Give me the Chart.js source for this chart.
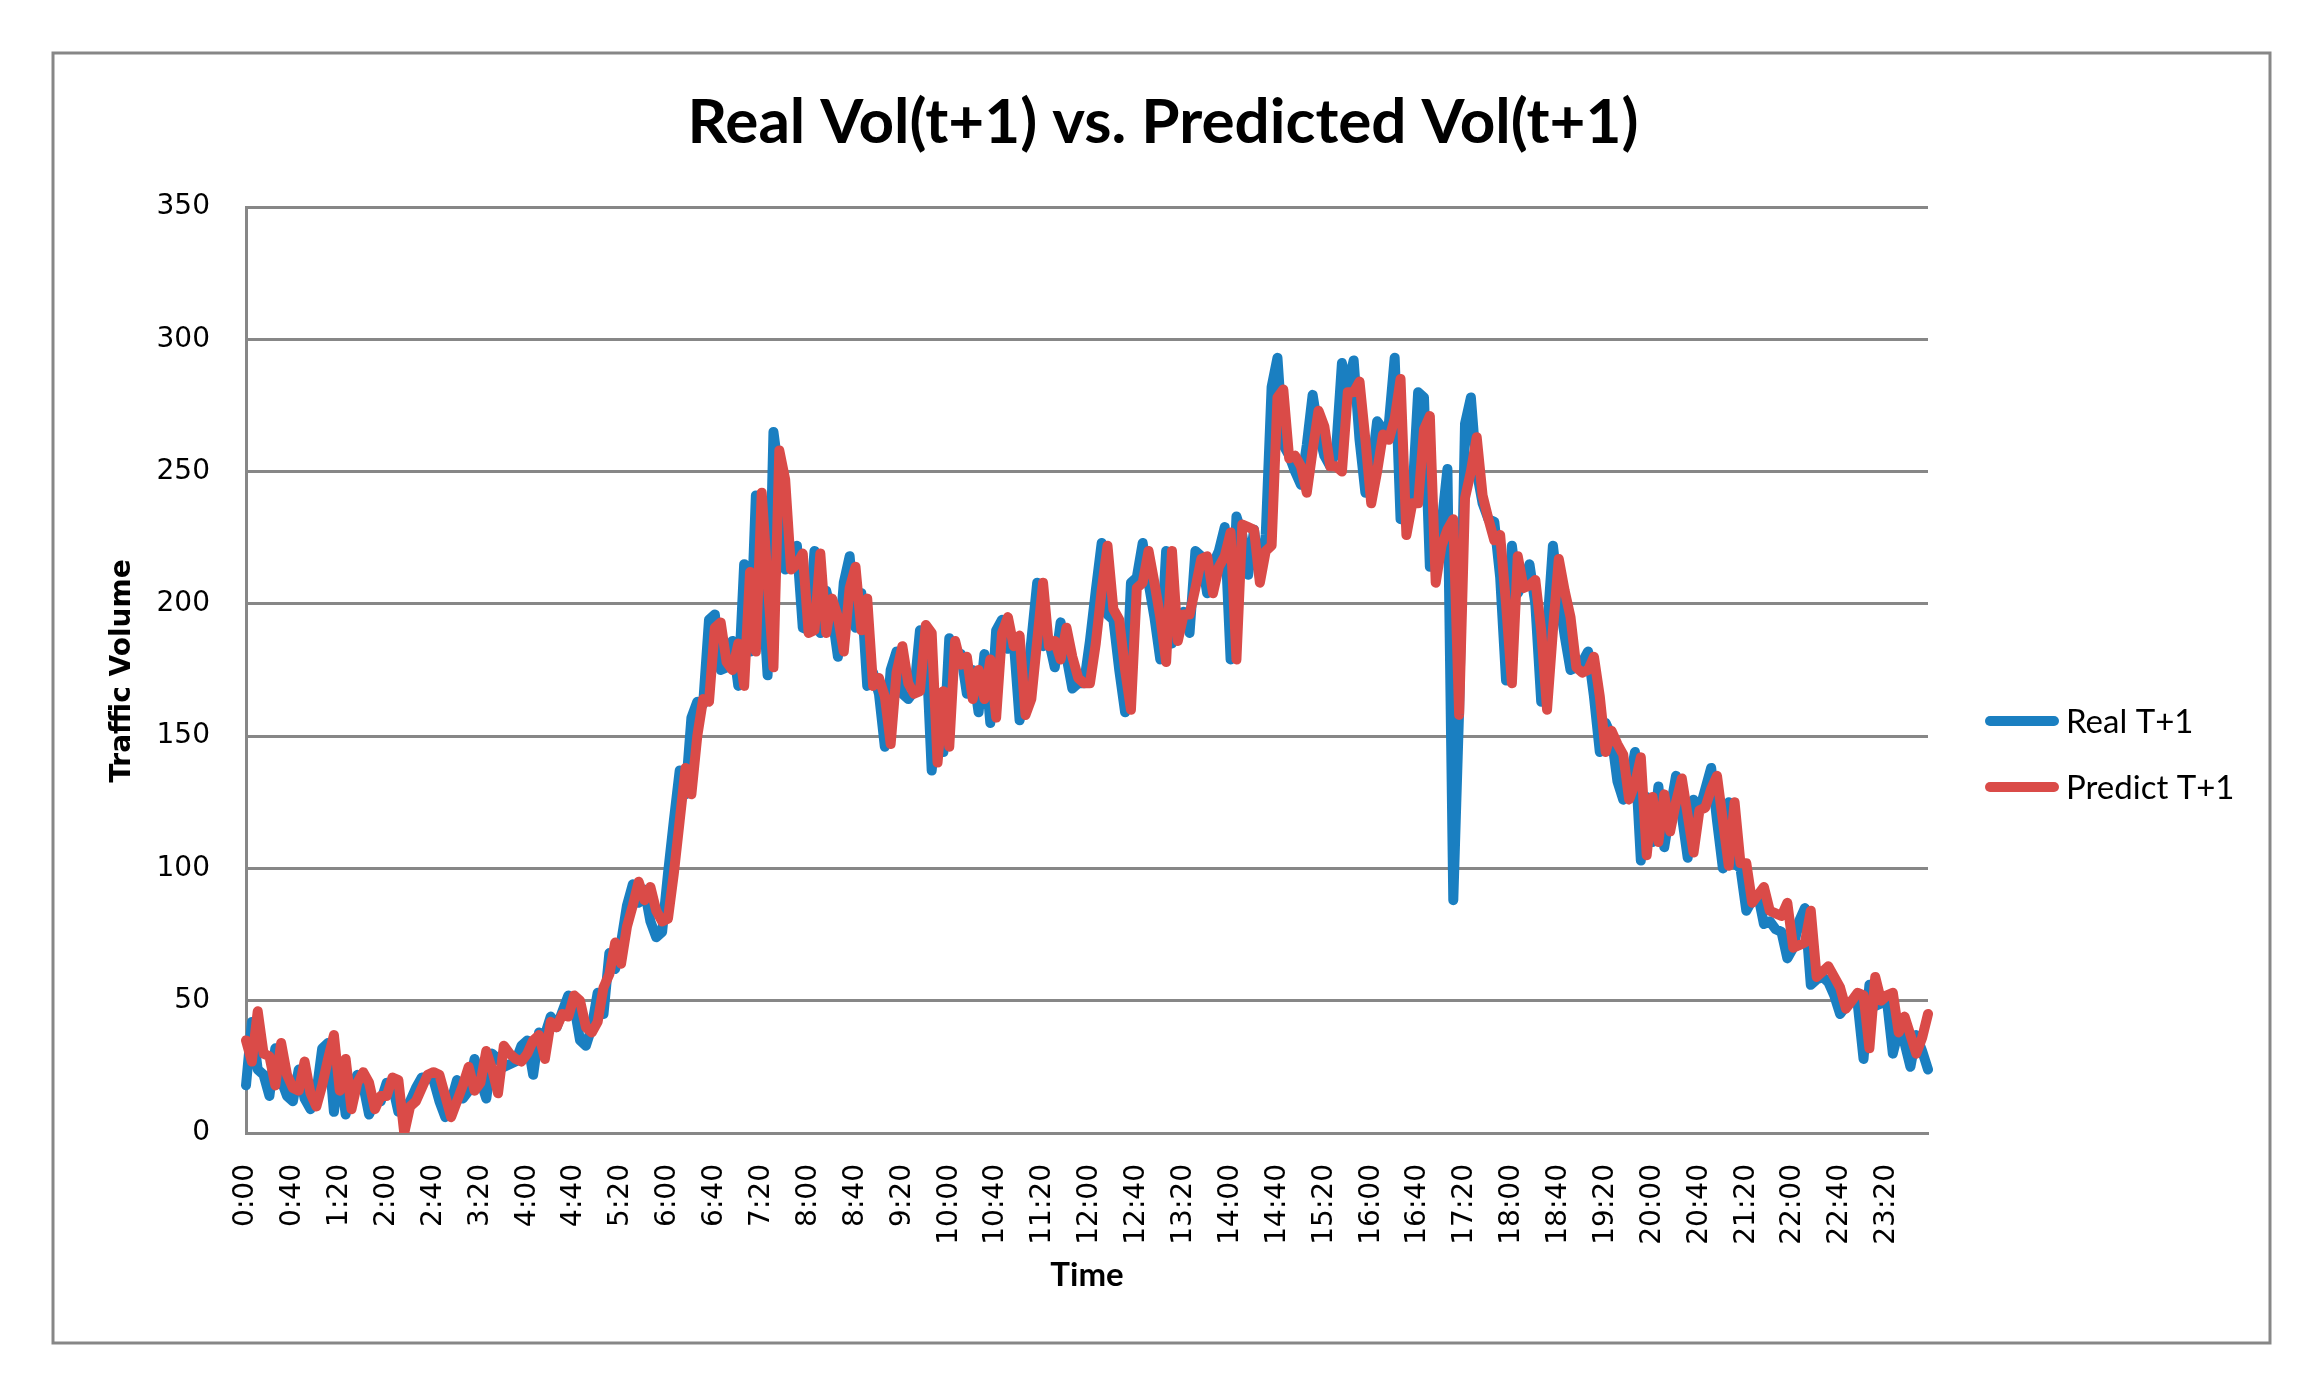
<!DOCTYPE html>
<html><head><meta charset="utf-8">
<script src="https://cdn.jsdelivr.net/npm/chart.js@4.4.1/dist/chart.umd.min.js"></script>
<style>html,body{margin:0;padding:0;background:#fff;}canvas{display:block;}</style>
</head><body>
<canvas id="c" width="2321" height="1395" style="width:2321px;height:1395px"></canvas>
<script>
// ---- data ----
const times = [
"0:00","0:05","0:10","0:15","0:20","0:25","0:30","0:35","0:40","0:45","0:50","0:55",
"1:00","1:05","1:10","1:15","1:20","1:25","1:30","1:35","1:40","1:45","1:50","1:55",
"2:00","2:05","2:10","2:15","2:20","2:25","2:30","2:35","2:40","2:45","2:50","2:55",
"3:00","3:05","3:10","3:15","3:20","3:25","3:30","3:35","3:40","3:45","3:50","3:55",
"4:00","4:05","4:10","4:15","4:20","4:25","4:30","4:35","4:40","4:45","4:50","4:55",
"5:00","5:05","5:10","5:15","5:20","5:25","5:30","5:35","5:40","5:45","5:50","5:55",
"6:00","6:05","6:10","6:15","6:20","6:25","6:30","6:35","6:40","6:45","6:50","6:55",
"7:00","7:05","7:10","7:15","7:20","7:25","7:30","7:35","7:40","7:45","7:50","7:55",
"8:00","8:05","8:10","8:15","8:20","8:25","8:30","8:35","8:40","8:45","8:50","8:55",
"9:00","9:05","9:10","9:15","9:20","9:25","9:30","9:35","9:40","9:45","9:50","9:55",
"10:00","10:05","10:10","10:15","10:20","10:25","10:30","10:35","10:40","10:45","10:50","10:55",
"11:00","11:05","11:10","11:15","11:20","11:25","11:30","11:35","11:40","11:45","11:50","11:55",
"12:00","12:05","12:10","12:15","12:20","12:25","12:30","12:35","12:40","12:45","12:50","12:55",
"13:00","13:05","13:10","13:15","13:20","13:25","13:30","13:35","13:40","13:45","13:50","13:55",
"14:00","14:05","14:10","14:15","14:20","14:25","14:30","14:35","14:40","14:45","14:50","14:55",
"15:00","15:05","15:10","15:15","15:20","15:25","15:30","15:35","15:40","15:45","15:50","15:55",
"16:00","16:05","16:10","16:15","16:20","16:25","16:30","16:35","16:40","16:45","16:50","16:55",
"17:00","17:05","17:10","17:15","17:20","17:25","17:30","17:35","17:40","17:45","17:50","17:55",
"18:00","18:05","18:10","18:15","18:20","18:25","18:30","18:35","18:40","18:45","18:50","18:55",
"19:00","19:05","19:10","19:15","19:20","19:25","19:30","19:35","19:40","19:45","19:50","19:55",
"20:00","20:05","20:10","20:15","20:20","20:25","20:30","20:35","20:40","20:45","20:50","20:55",
"21:00","21:05","21:10","21:15","21:20","21:25","21:30","21:35","21:40","21:45","21:50","21:55",
"22:00","22:05","22:10","22:15","22:20","22:25","22:30","22:35","22:40","22:45","22:50","22:55",
"23:00","23:05","23:10","23:15","23:20","23:25","23:30","23:35","23:40","23:45","23:50","23:55"
];
const tickLabels = ["0:00","0:40","1:20","2:00","2:40","3:20","4:00","4:40","5:20","6:00","6:40","7:20",
"8:00","8:40","9:20","10:00","10:40","11:20","12:00","12:40","13:20","14:00","14:40","15:20",
"16:00","16:40","17:20","18:00","18:40","19:20","20:00","20:40","21:20","22:00","22:40","23:20"];
const yTickValues = [0,50,100,150,200,250,300,350];

const realT1 = [
18,42,24,22,14,32,20,14,12,24,13,9,15,32,34,8,26,7,17,22,18,7,12,12,19,18,8,9,12,17,
21,21,20,12,6,12,20,13,16,28,20,13,30,28,25,26,27,33,35,22,38,37,44,40,46,52,48,35,33,40,53,
45,68,62,72,86,94,87,92,80,74,76,98,118,137,128,157,163,162,194,196,175,176,186,169,215,
182,241,210,173,265,248,213,215,222,191,190,220,189,205,196,180,208,218,191,204,169,174,166,146,175,
182,166,164,167,190,186,137,160,
144,187,178,181,166,175,159,181,155,190,194,183,186,156,165,186,208,184,186,176,193,180,168,170,170,
186,205,223,196,194,175,159,208,210,223,208,195,179,220,185,195,197,189,220,218,204,215,220,229,179,
233,226,211,228,210,226,
282,293,260,256,250,245,260,279,265,256,252,258,291,282,292,262,242,250,269,266,268,293,232,238,240,
280,278,214,222,230,251,88,160,268,278,250,238,232,231,210,171,222,204,208,215,200,163,190,222,203,
188,175,176,178,182,165,144,155,150,
133,126,132,144,103,127,110,131,108,122,135,120,104,126,122,130,138,118,100,125,102,100,84,88,90,
79,80,77,76,66,70,80,85,56,58,59,57,52,45,48,50,49,28,56,48,49,50,30,39,34,25,37,31,24
];
const predictT1 = [
35,27,46,30,29,18,34,22,17,16,27,15,10,18,28,37,16,28,9,19,23,19,9,14,14,21,20,0,10,12,
17,22,23,22,14,6,12,18,25,16,19,31,24,15,33,30,28,27,30,35,37,28,42,40,45,44,52,50,40,38,42,
55,60,72,64,78,86,95,88,93,84,80,81,98,118,138,128,150,164,163,191,193,178,175,185,169,
212,182,242,209,176,258,247,213,215,219,189,190,219,189,202,195,182,206,214,190,202,169,172,165,147,
174,184,170,166,167,192,189,140,
167,146,186,177,180,164,175,164,179,157,189,195,184,188,158,164,186,208,184,186,179,191,180,172,170,
170,185,205,222,198,194,175,160,206,208,220,208,195,178,220,186,196,196,206,217,218,204,214,218,227,
179,230,229,228,208,220,
222,278,281,255,256,252,242,258,273,267,252,252,250,280,280,284,262,238,250,264,262,270,285,226,238,
238,266,271,208,222,228,232,158,240,250,263,241,232,224,226,200,170,218,206,207,209,190,160,190,217,
205,195,176,174,175,180,165,144,152,
147,143,126,132,142,105,127,110,128,114,125,134,120,106,122,123,130,135,118,101,125,102,102,87,90,
93,84,83,82,87,70,71,72,84,59,61,63,59,55,47,50,53,52,32,59,50,52,53,38,44,37,30,36,45
];
const seriesNames = ["Real T+1","Predict T+1"];
const chartTitle = "Real Vol(t+1) vs. Predicted Vol(t+1)";
const yTitle = "Traffic Volume";
const xTitle = "Time";

// ---- styles ----
const BLUE = "#1A7FC1", RED = "#DA4B48", GRID = "#878787";
const tickSet = new Set(tickLabels);

const decor = {
  id: "decor",
  beforeDraw(chart) {
    const ctx = chart.ctx;
    ctx.save();
    ctx.fillStyle = "#fff";
    ctx.fillRect(0, 0, chart.width, chart.height);
    ctx.strokeStyle = GRID;
    ctx.lineWidth = 3;
    ctx.strokeRect(53, 53, 2217, 1290);
    ctx.restore();
  },
  afterDraw(chart) {
    const ctx = chart.ctx;
    ctx.save();
    ctx.fillStyle = "#000";
    ctx.textAlign = "center";
    ctx.textBaseline = "middle";
    ctx.font = "bold 62px Lato";
    ctx.fillText(chartTitle, 1163, 123);
    ctx.font = "bold 33px Lato";
    ctx.fillText(xTitle, 1087, 1275);
    ctx.save();
    ctx.translate(123, 671);
    ctx.rotate(-Math.PI / 2);
    ctx.font = "bold 28px 'DejaVu Sans'";
    ctx.fillText(yTitle, 0, 0);
    ctx.restore();
    // legend
    const rows = [721, 787];
    chart.data.datasets.forEach((ds, k) => {
      const y = rows[k];
      ctx.strokeStyle = ds.borderColor;
      ctx.lineWidth = 10;
      ctx.lineCap = "round";
      ctx.beginPath();
      ctx.moveTo(1990, y);
      ctx.lineTo(2054, y);
      ctx.stroke();
      ctx.fillStyle = "#000";
      ctx.textAlign = "left";
      ctx.font = "33px Lato";
      ctx.fillText(ds.label, 2066, y + 1);
    });
    ctx.restore();
  }
};

new Chart(document.getElementById("c"), {
  type: "line",
  data: {
    labels: times,
    datasets: [
      { label: seriesNames[0], data: realT1, borderColor: BLUE, backgroundColor: BLUE, order: 1 },
      { label: seriesNames[1], data: predictT1, borderColor: RED, backgroundColor: RED, order: 0 }
    ]
  },
  options: {
    responsive: false,
    devicePixelRatio: 1,
    animation: false,
    events: [],
    layout: { padding: { left: 146, right: 393, top: 207, bottom: 112 } },
    elements: {
      line: { borderWidth: 10, tension: 0, borderJoinStyle: "round", borderCapStyle: "round" },
      point: { radius: 0 }
    },
    plugins: { legend: { display: false }, title: { display: false }, tooltip: { enabled: false } },
    scales: {
      x: {
        type: "category",
        offset: false,
        grid: { display: false, drawTicks: false },
        border: { display: true, color: GRID, width: 3 },
        ticks: {
          autoSkip: false, maxRotation: 90, minRotation: 90, padding: 31,
          color: "#000", font: { family: "DejaVu Sans", size: 28 },
          callback: function (v, i) { const t = times[i]; return tickSet.has(t) ? t : ""; }
        },
        afterFit(s) { s.height = 150; }
      },
      y: {
        min: 0, max: 350,
        afterBuildTicks(s) { s.ticks = yTickValues.map(v => ({ value: v })); },
        grid: { color: GRID, lineWidth: 3, drawTicks: false },
        border: { display: true, color: GRID, width: 3 },
        ticks: { padding: 36, color: "#000", font: { family: "DejaVu Sans", size: 28 } },
        afterFit(s) { s.width = 100; }
      }
    }
  },
  plugins: [decor]
});
</script>
</body></html>
